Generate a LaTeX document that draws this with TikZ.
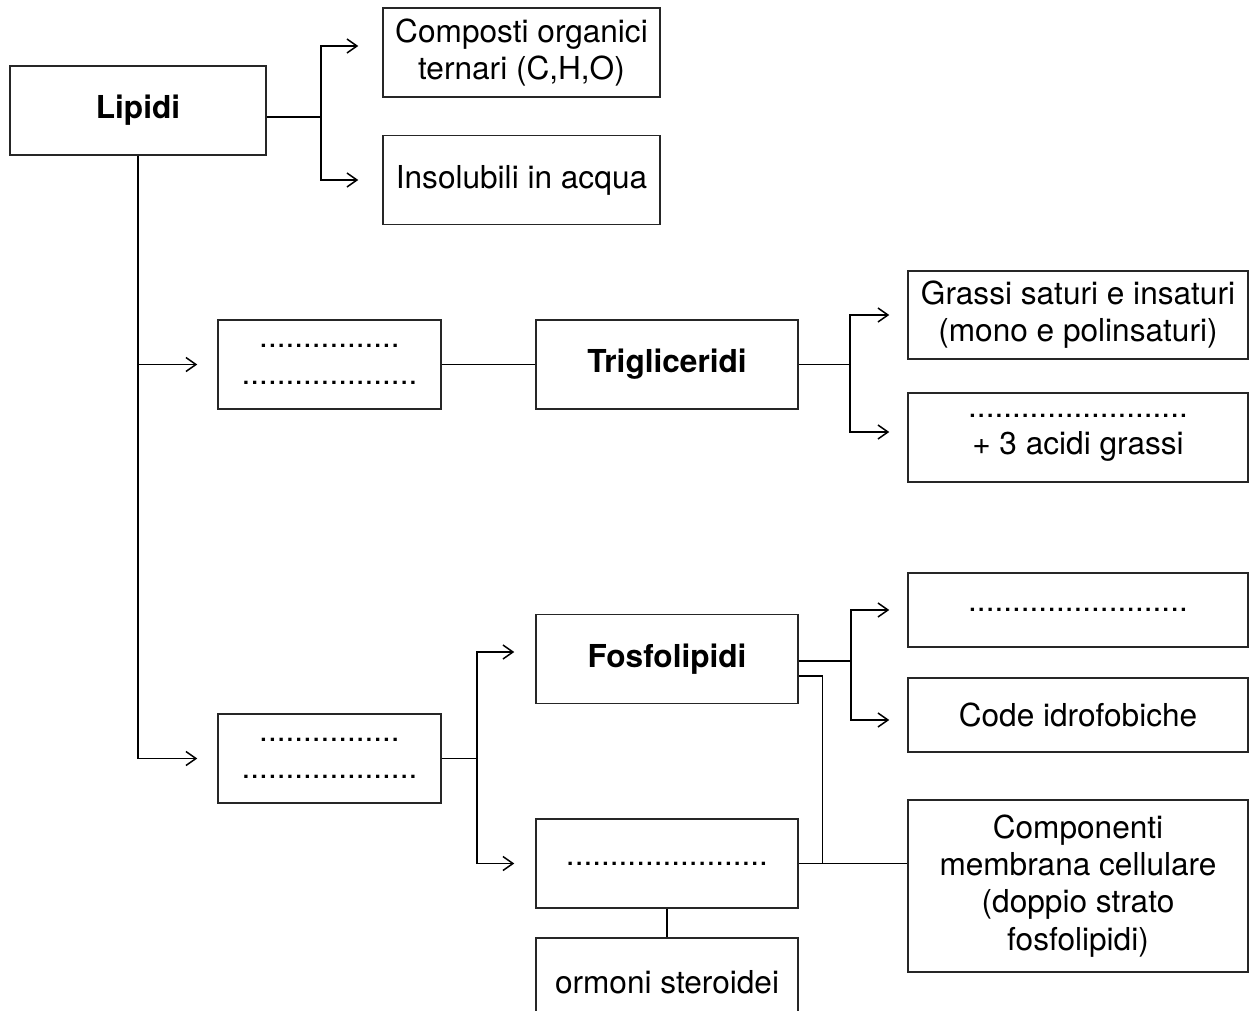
\documentclass[tikz,border=0pt]{standalone}
\usepackage{fontspec}
\setmainfont{TeX Gyre Heros}
\usetikzlibrary{arrows.meta}

\begin{document}
\begin{tikzpicture}[x=0.5pt,y=-0.5pt,line width=0.75pt,
  box/.style={draw=black!85,inner sep=0pt,align=center,
    font=\fontsize{15.8}{18.6}\selectfont,minimum height=44.5pt},
  small/.style={minimum width=111.5pt},
  mid/.style={minimum width=131pt},
  wide/.style={minimum width=170pt},
  arr/.style={-{Straight Barb[length=5pt,width=7pt]},shorten >=10pt}]
  \useasboundingbox (0,0) rectangle (1253,1011);
  % top level
  \node[box,minimum width=128pt] (lipidi) at (138,110.5) {\bfseries Lipidi};
  \node[box,minimum width=138.5pt] (composti) at (521.5,52.5) {Composti organici\\ternari (C,H,O)};
  \node[box,minimum width=138.5pt] (insolubili) at (521.5,180) {Insolubili in acqua};
  % trigliceridi
  \node[box,small] (dotsA) at (329.5,364.5) {................\\....................};
  \node[box,mid] (trig) at (667,364.5) {\bfseries Trigliceridi};
  \node[box,wide,minimum height=44pt] (grassi) at (1078,315) {Grassi saturi e insaturi\\(mono e polinsaturi)};
  \node[box,wide] (glicerolo) at (1078,437.5) {.........................\\+ 3 acidi grassi};
  % fosfolipidi e steroidi
  \node[box,small] (dotsB) at (329.5,758.5) {................\\....................};
  \node[box,mid] (fosfo) at (667,659) {\bfseries Fosfolipidi};
  \node[box,mid] (steroidi) at (667,863.5) {.......................};
  \node[box,mid] (ormoni) at (667,982.5) {ormoni steroidei};
  \node[box,wide,minimum height=37pt] (fosfotop) at (1078,610) {.........................};
  \node[box,wide,minimum height=37pt] (code) at (1078,715) {Code idrofobiche};
  \node[box,wide,minimum height=86pt] (membrana) at (1078,886) {Componenti\\membrana cellulare\\(doppio strato\\fosfolipidi)};

  \draw ([yshift=-3.25pt]lipidi.east) -- ++(54,0) coordinate (j1);
  \draw[arr,shorten >=12pt] (j1) |- ([yshift=3.25pt]composti.west);
  \draw[arr,shorten >=12pt] (j1) |- (insolubili.west);
  \draw[arr] (lipidi.south) |- (dotsA.west);
  \draw[arr] (lipidi.south) |- (dotsB.west);
  \draw (dotsA) -- (trig);
  \draw (trig.east) -- ++(51,0) coordinate (j2);
  \draw[arr,shorten >=9pt] (j2) |- (grassi.west);
  \draw[arr,shorten >=9pt] (j2) |- ([yshift=2.75pt]glicerolo.west);
  \draw (dotsB.east) -- ++(35,0) coordinate (j3);
  \draw[arr,shorten >=10.5pt] (j3) |- ([yshift=3.5pt]fosfo.west);
  \draw[arr,shorten >=10.5pt] (j3) |- (steroidi.west);
  \draw ([yshift=-1pt]fosfo.east) -- ++(52,0) coordinate (j4);
  \draw[arr,shorten >=9pt] (j4) |- (fosfotop.west);
  \draw[arr,shorten >=9pt] (j4) |- ([yshift=-2.5pt]code.west);
  \draw ([yshift=-8.5pt]fosfo.east) -| ([xshift=11.75pt]steroidi.east);
  \draw (steroidi.east) -- (membrana.west |- steroidi.east);
  \draw (steroidi) -- (ormoni);
\end{tikzpicture}
\end{document}
